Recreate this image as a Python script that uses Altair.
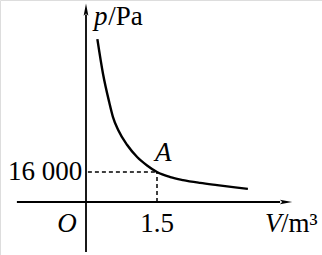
import altair as alt
import pandas as pd

# curve
V_curve = [0.24, 0.36, 0.49, 0.57, 0.68, 0.87, 1.08, 1.29, 1.5, 1.78, 2.05, 2.41, 2.77, 3.15, 3.42]
p_curve = [86900, 68300, 53300, 45300, 38400, 30400, 24000, 19500, 16000, 13300, 11700, 10200, 9000, 7800, 7000]

# point A and its labels
V_A = 1.5
p_A = 16000
tick_V_label = "1.5"
tick_p_label = "16 000"

FONT = "Liberation Serif"
W, H = 322, 255
xdom = [-1.817, 4.986]
ydom = [-28267, 107733]

xs = alt.Scale(domain=xdom, range=[0, W], nice=False, zero=False)
ys = alt.Scale(domain=ydom, range=[H, 0], nice=False, zero=False)

def X(f="V"):
    return alt.X(f"{f}:Q", scale=xs, axis=None)

def Y(f="p"):
    return alt.Y(f"{f}:Q", scale=ys, axis=None)

curve = alt.Chart(pd.DataFrame({"V": V_curve, "p": p_curve})).mark_line(
    color="black", strokeWidth=2.4, interpolate="monotone"
).encode(x=X(), y=Y())

# axes
yaxis = alt.Chart(pd.DataFrame({"V": [0], "p": [-26667], "p2": [100000]})).mark_rule(
    color="black", strokeWidth=1.8
).encode(x=X(), y=Y(), y2="p2:Q")
xaxis = alt.Chart(pd.DataFrame({"V": [-1.46], "V2": [4.1], "p": [0]})).mark_rule(
    color="black", strokeWidth=1.8
).encode(x=X(), x2="V2:Q", y=Y())

up = "M0,-1 L0.36,0.9 L0,0.55 L-0.36,0.9 Z"
right = "M1,0 L-0.9,0.36 L-0.55,0 L-0.9,-0.36 Z"
arr_up = alt.Chart(pd.DataFrame({"V": [0], "p": [102400]})).mark_point(
    shape=up, filled=True, color="black", size=170, opacity=1
).encode(x=X(), y=Y())
arr_right = alt.Chart(pd.DataFrame({"V": [4.22], "p": [0]})).mark_point(
    shape=right, filled=True, color="black", size=170, opacity=1
).encode(x=X(), y=Y())

# dashed guides
hdash = alt.Chart(pd.DataFrame({"V": [0.04], "V2": [V_A], "p": [p_A]})).mark_rule(
    color="black", strokeWidth=1.5, strokeDash=[4, 3]
).encode(x=X(), x2="V2:Q", y=Y())
vdash = alt.Chart(pd.DataFrame({"V": [V_A], "p": [0], "p2": [p_A]})).mark_rule(
    color="black", strokeWidth=1.5, strokeDash=[4, 3]
).encode(x=X(), y=Y(), y2="p2:Q")

def txt(df, align, style="normal", size=27, baseline="middle"):
    return alt.Chart(pd.DataFrame(df)).mark_text(
        font=FONT, fontSize=size, fontStyle=style, align=align, baseline=baseline,
        color="black"
    ).encode(x=X(), y=Y(), text="t:N")

t16 = txt({"V": [-0.08], "p": [p_A], "t": [tick_p_label]}, "right")
t15 = txt({"V": [V_A], "p": [-11700], "t": [tick_V_label]}, "center")
tO = txt({"V": [-0.40], "p": [-11700], "t": ["O"]}, "center", "italic")
tA = txt({"V": [1.63], "p": [26200], "t": ["A"]}, "center", "italic")
tp = txt({"V": [0.17], "p": [94400], "t": ["p"]}, "left", "italic", baseline="alphabetic")
tPa = txt({"V": [0.47], "p": [94400], "t": ["/Pa"]}, "left", baseline="alphabetic")
tV = txt({"V": [3.78], "p": [-11700], "t": ["V"]}, "left", "italic")
tm = txt({"V": [4.12], "p": [-11700], "t": ["/m³"]}, "left")

chart = alt.layer(
    curve, yaxis, xaxis, arr_up, arr_right, hdash, vdash,
    t16, t15, tO, tA, tp, tPa, tV, tm
).properties(
    width=W, height=H, autosize=alt.AutoSizeParams(type="none"), padding=0
).configure_view(stroke=None).configure(background="white")

chart.save("out.html", embed_options={"renderer": "svg", "actions": False})
